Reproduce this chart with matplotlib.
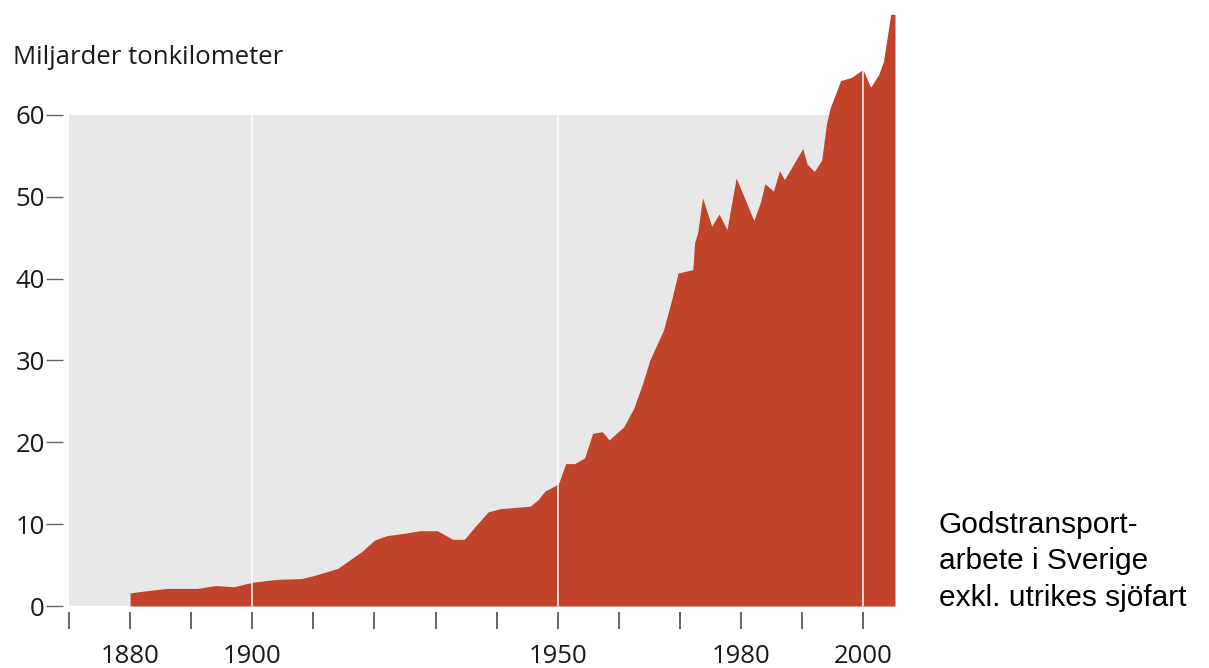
import numpy as np
import matplotlib
matplotlib.use("Agg")
import matplotlib.pyplot as plt

# Godstransportarbete i Sverige, miljarder tonkilometer
years = [1880, 1882, 1886, 1891, 1894, 1897, 1900, 1904, 1908, 1910,
         1914, 1918, 1920, 1922, 1925, 1927.5, 1930.3, 1932.8, 1934.7, 1936.7,
         1938.6, 1940.6, 1945.5, 1946.8, 1947.9, 1950.1, 1951.3, 1952.8, 1954.4, 1955.7,
         1957.3, 1958.4, 1960.8, 1962.4, 1963.8, 1965.1, 1967.3, 1968.7, 1969.7, 1972.1,
         1972.4, 1972.9, 1973.7, 1975.2, 1976.4, 1977.7, 1979.2, 1982.1, 1983.2, 1983.9,
         1985.3, 1986.3, 1987.1, 1990.1, 1990.8, 1992.0, 1993.2, 1994.0, 1994.6, 1996.3,
         1998.1, 1999.8, 2000.0, 2001.2, 2002.5, 2003.3, 2004.5, 2005.2]
values = [1.6, 1.8, 2.15, 2.15, 2.5, 2.35, 2.9, 3.25, 3.35, 3.7,
          4.6, 6.7, 8.05, 8.6, 8.9, 9.2, 9.2, 8.15, 8.15, 9.9,
          11.5, 11.9, 12.2, 13.0, 14.05, 14.9, 17.4, 17.4, 18.1, 21.1,
          21.3, 20.3, 21.9, 24.1, 27.0, 30.1, 33.7, 37.6, 40.7, 41.1,
          44.4, 45.6, 49.9, 46.4, 47.9, 46.0, 52.3, 47.1, 49.4, 51.6,
          50.7, 53.2, 52.1, 55.9, 54.0, 53.1, 54.5, 59.0, 60.9, 64.2,
          64.6, 65.5, 65.5, 63.4, 64.9, 66.5, 72.3, 72.3]

tick_years = list(range(1870, 2001, 10))
label_years = [1880, 1900, 1950, 1980, 2000]
y_ticks = [0, 10, 20, 30, 40, 50, 60]
grid_years = [1900, 1950, 2000]

red = "#c1432a"
bg = "#e8e8e8"
tick_col = "#666666"

plt.rcParams['font.family'] = ['Open Sans', 'DejaVu Sans']

fig = plt.figure(figsize=(12.09, 6.68), dpi=100)
ax = fig.add_axes([69 / 1209, 1 - 606 / 668, 826 / 1209, 593.3 / 668])

ax.axhspan(0, 60, color=bg, lw=0, zorder=0)
ax.fill_between(years, 0, values, color=red, lw=0, zorder=1)

for yr in grid_years:
    top = max(60, np.interp(yr, years, values))
    ax.plot([yr, yr], [0, top], color="white", lw=1.3, alpha=0.85, zorder=2)

ax.set_xlim(1870, 2005.2)
ax.set_ylim(0, 72.5)

for s in ax.spines.values():
    s.set_visible(False)
ax.spines['bottom'].set_position(('outward', 4.3))
ax.spines['left'].set_position(('outward', 4.3))

ax.set_xticks(tick_years)
ax.set_xticklabels([str(y) if y in label_years else "" for y in tick_years])
ax.set_yticks(y_ticks)
ax.tick_params(axis='x', direction='out', length=12.2, width=1.4, color=tick_col,
               labelsize=18.5, pad=11, labelcolor="#1a1a1a")
ax.tick_params(axis='y', direction='out', length=12.2, width=1.0, color=tick_col,
               labelsize=18.5, pad=1, labelcolor="#1a1a1a")

fig.text(13 / 1209, 1 - 58 / 668, "Miljarder tonkilometer", fontsize=18.5,
         color="#1a1a1a", va='center', ha='left')

fig.text(939 / 1209, 1 - 511 / 668, "Godstransport-\narbete i Sverige\nexkl. utrikes sjöfart",
         fontsize=21.5, family=['Liberation Sans', 'DejaVu Sans'], color="black",
         va='top', ha='left', linespacing=1.38)

fig.savefig("out.png", dpi=100)
